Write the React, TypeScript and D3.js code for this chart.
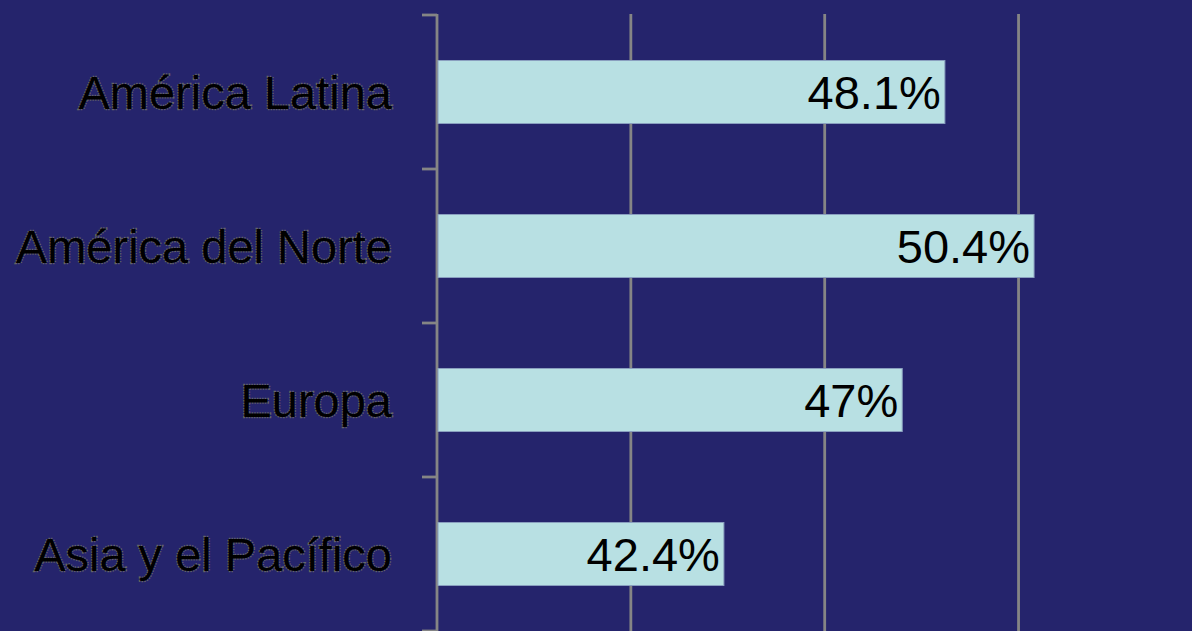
import React from "react";
import * as d3 from "d3";

const categories = ["América Latina", "América del Norte", "Europa", "Asia y el Pacífico"];
const values = [48.1, 50.4, 47, 42.4];
const labels = ["48.1%", "50.4%", "47%", "42.4%"];
const xTicks = [35, 40, 45, 50, 55];

const W = 1192;
const H = 631;

export default function App() {
  const x = d3.scaleLinear().domain([35, 55]).range([437, 437 + 20 * 38.77]);
  const y = d3.scaleBand<string>().domain(categories).range([15, 631]).paddingInner(0.591).paddingOuter(0.2955);
  const step = y.step();
  const bandTops = categories.map((_, i) => 15 + i * step);
  bandTops.push(15 + categories.length * step);
  const font = "'Liberation Sans', Arial, sans-serif";
  return (
    <svg width={W} height={H} style={{ position: "absolute", left: 0, top: 0, display: "block" }}>
      <rect x={0} y={0} width={W} height={H} fill="#25246C" />
      {xTicks.filter((t) => t > 35).map((t) => (
        <line key={t} x1={x(t)} x2={x(t)} y1={14} y2={H} stroke="#858585" strokeWidth={2.8} />
      ))}
      <line x1={x(35)} x2={x(35)} y1={14} y2={H} stroke="#858585" strokeWidth={2.8} />
      {bandTops.map((t, i) => (
        <line key={i} x1={422} x2={x(35)} y1={t} y2={t} stroke="#858585" strokeWidth={2.8} />
      ))}
      {categories.map((c, i) => (
        <rect
          key={c}
          x={x(35) + 1}
          y={y(c)!}
          width={x(values[i]) - x(35) - 1}
          height={y.bandwidth()}
          fill="#B8E0E3"
          stroke="#8A9FBF"
          strokeWidth={1}
        />
      ))}
      {categories.map((c, i) => (
        <text
          key={"v" + c}
          x={x(values[i]) - 4}
          y={y(c)! + y.bandwidth() / 2}
          dy="0.36em"
          textAnchor="end"
          fontFamily={font}
          fontSize={47}
          fill="#000"
        >
          {labels[i]}
        </text>
      ))}
      {categories.map((c) => (
        <text
          key={"c" + c}
          x={392}
          y={y(c)! + y.bandwidth() / 2}
          dy="0.36em"
          textAnchor="end"
          fontFamily={font}
          fontSize={47}
          fill="#000"
          stroke="#666"
          strokeWidth={2.6}
          strokeDasharray="1.3 1.3"
          paintOrder="stroke"
        >
          {c}
        </text>
      ))}
    </svg>
  );
}
